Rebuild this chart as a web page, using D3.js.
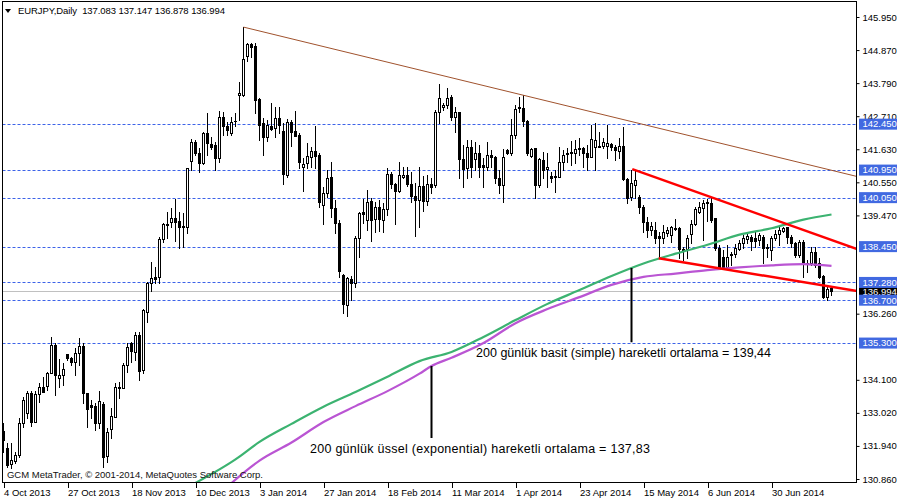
<!DOCTYPE html>
<html><head><meta charset="utf-8">
<script src="https://cdn.jsdelivr.net/npm/d3@7/dist/d3.min.js"></script>
<style>
body{margin:0;background:#fff}
svg{display:block;font-family:"Liberation Sans",Arial,sans-serif}
text{white-space:pre}
</style>
</head><body>
<svg id="chart" width="900" height="500"></svg>
<script>
// ---------- data ----------
const dateIdx = [0,16,32,48,64,80,96,112,128,144,160,176,192];
const dateLabels = ["4 Oct 2013","27 Oct 2013","18 Nov 2013","10 Dec 2013","3 Jan 2014","27 Jan 2014","18 Feb 2014","11 Mar 2014","1 Apr 2014","23 Apr 2014","15 May 2014","6 Jun 2014","30 Jun 2014"];
const priceTicks = [145.95,144.87,143.79,142.71,141.63,140.55,139.47,136.26,134.10,133.02,131.94,130.86];
const levels = [142.450,140.950,140.050,138.450,137.280,136.700,135.300];
const lastPrice = 136.994;

const open = [132.43,131.87,131.35,131.46,131.65,132.69,133.02,133.67,132.72,133.64,133.87,133.90,134.32,135.24,134.16,134.26,134.94,134.81,134.68,134.98,
135.21,133.67,133.28,133.25,132.69,133.31,131.61,132.50,132.89,133.83,133.83,134.58,135.30,135.01,135.56,134.42,136.32,137.26,137.46,137.46,
138.70,139.16,139.25,139.38,139.29,139.12,139.09,141.25,141.87,141.51,141.18,142.16,141.80,141.77,141.34,142.68,142.39,142.16,142.54,143.40,
143.40,144.68,145.07,145.00,143.27,142.49,142.03,142.39,142.33,142.65,142.23,140.79,142.52,142.23,142.10,141.05,141.18,141.38,141.57,141.44,
139.81,140.20,140.72,139.71,139.22,137.52,136.55,137.39,137.26,138.73,139.58,139.32,139.94,139.35,139.74,139.32,139.68,140.82,140.50,140.27,
140.72,140.79,140.50,140.10,139.97,140.43,139.95,140.50,140.46,142.85,143.01,143.07,143.34,142.68,142.85,141.31,141.02,141.70,141.31,141.51,
141.12,141.05,141.44,141.38,140.69,140.46,141.61,141.51,142.10,142.98,142.98,142.55,141.41,141.67,140.46,141.28,140.98,140.76,140.76,140.72,
141.21,141.47,141.54,141.51,141.67,141.67,141.51,141.38,141.70,141.70,141.74,141.74,141.80,141.70,141.57,141.74,140.66,140.07,140.46,140.07,
139.74,139.25,138.99,138.99,138.80,138.73,138.90,138.83,139.06,139.06,138.37,138.37,138.86,139.19,139.58,139.71,139.88,139.88,139.38,138.40,
138.11,137.78,138.18,138.21,138.37,138.57,138.70,138.77,138.73,138.67,138.77,138.44,138.34,138.73,138.86,138.96,139.09,138.77,138.57,138.18,
138.60,137.92,137.92,138.27,137.92,137.49,136.81,137.083];
const high = [132.69,132.04,132.04,131.75,132.85,133.54,133.74,133.74,133.74,134.00,134.19,134.36,135.50,135.30,134.78,134.65,134.94,134.85,135.14,135.47,
135.30,133.67,133.44,133.34,133.74,133.38,132.53,133.18,134.00,134.03,134.65,135.30,135.34,135.66,135.66,136.41,137.30,137.95,137.78,138.77,
139.22,139.58,139.71,140.01,139.58,139.55,141.02,141.97,141.93,141.67,142.19,142.81,142.03,141.87,142.88,142.85,142.52,142.68,142.81,143.83,
145.62,145.10,145.10,145.10,143.30,142.65,142.59,143.14,143.01,143.01,142.49,142.62,142.59,142.88,142.16,141.34,141.83,141.70,142.39,141.51,
140.40,140.95,141.21,139.97,139.32,137.55,137.46,137.49,138.80,139.58,140.01,140.30,140.04,139.91,139.97,139.88,141.02,140.89,140.53,141.21,
141.05,141.05,140.89,140.53,141.05,140.75,140.80,140.70,142.91,143.76,143.14,143.63,143.40,143.01,142.85,141.77,141.93,141.93,141.87,141.77,
141.34,141.87,141.61,141.41,140.95,141.64,141.64,142.62,143.07,143.34,143.40,142.59,141.67,141.67,141.34,141.54,141.51,140.89,140.95,141.70,
141.61,141.67,141.90,141.93,142.00,141.70,141.77,142.42,142.49,142.19,142.00,142.42,141.83,141.77,142.00,142.36,140.69,140.95,140.95,140.14,
139.81,139.42,139.25,139.25,138.93,139.16,139.09,139.12,139.35,139.09,138.44,138.83,139.32,139.74,139.91,139.97,140.01,140.04,139.38,138.50,
138.34,138.50,138.27,138.53,138.67,138.83,138.93,138.83,138.93,138.90,138.83,138.53,138.80,138.99,139.09,139.09,139.09,138.83,138.60,138.67,
138.67,138.01,138.44,138.44,138.08,137.52,137.13,137.147];
const low = [131.75,131.25,131.22,131.39,131.58,132.56,132.85,132.59,132.72,133.38,133.70,133.77,134.32,133.60,133.87,133.93,134.75,134.58,134.26,134.58,
133.34,132.56,132.85,132.46,132.53,131.25,131.42,132.20,132.89,133.51,133.83,134.36,134.68,134.75,134.09,134.32,136.00,137.00,137.26,137.26,
138.60,138.73,139.09,138.63,138.40,138.44,138.90,140.95,141.44,140.89,141.15,141.44,141.64,140.95,141.21,142.10,142.10,142.10,142.39,142.59,
143.37,144.51,144.64,142.81,141.93,141.44,141.90,142.26,142.03,142.16,140.50,140.72,141.74,142.06,141.02,140.27,141.02,141.05,141.02,139.74,
139.19,140.07,139.42,138.90,137.46,136.28,136.19,136.71,137.13,138.11,139.22,138.99,138.63,138.93,138.96,138.93,139.48,140.37,139.19,140.24,
140.69,140.43,139.91,138.80,139.09,139.60,139.80,140.20,140.40,142.49,142.91,142.98,142.59,142.19,140.69,140.40,140.69,140.72,140.95,140.72,
140.40,140.95,141.05,140.53,140.20,139.91,141.47,141.44,142.00,142.85,142.40,141.44,141.38,140.04,140.40,140.69,140.40,140.56,140.24,140.72,
140.95,141.21,141.12,141.18,141.44,141.05,140.95,141.38,140.95,141.70,141.67,141.34,141.61,141.28,141.34,140.63,139.88,139.97,140.04,139.55,
138.93,138.77,138.83,138.57,138.11,138.57,138.80,138.60,138.99,138.08,138.01,138.08,138.57,139.16,139.55,138.67,139.29,139.25,138.34,137.75,
137.75,137.72,137.85,138.11,138.34,138.40,138.57,138.34,138.44,138.50,137.92,138.11,138.01,138.67,138.50,138.93,138.57,138.44,138.11,138.11,
137.46,137.62,137.85,137.78,137.42,136.78,136.71,136.878];
const close = [132.13,131.32,131.48,131.65,132.69,133.44,133.67,132.72,133.64,133.87,133.70,134.32,135.24,134.26,134.26,134.45,134.81,134.68,134.98,135.21,
133.67,133.15,133.21,132.69,133.41,131.58,132.40,132.92,133.87,133.87,134.58,135.17,135.04,135.56,134.39,136.38,137.26,137.42,137.39,138.70,
139.19,139.19,139.38,139.25,139.09,139.09,141.02,141.87,141.51,141.18,142.16,141.83,141.70,141.34,142.68,142.39,142.26,142.52,142.55,143.47,
144.58,145.07,144.97,143.24,142.42,142.03,142.42,142.29,142.65,142.42,140.82,142.52,142.19,142.06,141.21,141.15,141.41,141.57,141.41,139.91,
140.20,140.69,139.71,139.22,137.65,136.58,137.42,137.26,138.73,139.55,139.52,139.91,139.32,139.74,139.35,139.68,140.82,140.50,140.27,140.79,
140.79,140.50,140.10,139.97,140.43,139.95,140.50,140.40,142.85,143.30,143.07,143.30,142.68,142.85,141.31,140.98,141.70,141.05,141.51,141.05,
141.05,141.44,141.38,140.69,140.46,141.38,141.51,142.10,142.95,143.01,142.55,141.51,141.64,140.46,141.31,140.95,141.05,140.69,140.72,141.21,
141.44,141.51,141.51,141.64,141.64,141.51,141.38,141.97,141.93,141.74,141.87,141.83,141.70,141.61,141.74,140.66,140.04,140.53,140.63,139.74,
139.25,138.99,139.12,138.73,138.73,138.93,138.99,139.09,139.03,138.37,138.34,138.73,139.19,139.68,139.74,139.88,139.91,139.32,138.40,137.78,
137.78,138.11,138.21,138.40,138.57,138.73,138.80,138.63,138.63,138.83,138.40,138.40,138.73,138.86,138.99,139.06,138.77,138.57,138.18,138.60,
137.92,137.88,138.27,137.85,137.46,136.81,137.07,136.994];

// moving averages read at sampled bars
const smaIdx = [48,58,64,72,80,88,96,104,112,120,128,136,144,152,160,168,176,184,192,200,207];
const smaVal = [130.73,131.50,132.07,132.66,133.22,133.70,134.20,134.71,135.01,135.50,136.05,136.58,137.03,137.49,137.90,138.22,138.51,138.84,139.05,139.33,139.50];
const emaIdx = [57,64,72,80,88,96,104,107,112,120,128,136,144,152,160,168,176,184,192,200,207];
const emaVal = [130.73,131.46,132.05,132.72,133.24,133.73,134.30,134.55,134.82,135.30,135.95,136.41,136.80,137.20,137.46,137.57,137.68,137.77,137.84,137.88,137.82];

// trendlines [bar, price]
const brownLine = [[60,145.62],[213.4,140.74]];
const redUpper = [[157.2,140.98],[213.4,138.37]];
const redLower = [[163.8,138.07],[213.4,137.00]];
// annotation markers [bar, priceTop, priceBottom]
const smaMark = [157, 137.75, 135.33];
const emaMark = [107, 134.55, 132.20];

const title = "EURJPY,Daily  137.083 137.147 136.878 136.994";
const smaText = "200 günlük basit (simple) hareketli ortalama = 139,44";
const emaText = "200 günlük üssel (exponential) hareketli ortalama = 137,83";
const copyText = "GCM MetaTrader, © 2001-2014, MetaQuotes Software Corp.";

// ---------- drawing ----------
const svg = d3.select("#chart");
const L = 2.5, R = 856.5, T = 1.5, B = 482.5;
const x = d3.scaleLinear().domain([0, 207]).range([3.5, 831.5]);
const y = d3.scaleLinear().domain([130.86, 145.95]).range([479, 17]);

svg.append("defs").append("clipPath").attr("id","plot")
  .append("rect").attr("x",L).attr("y",T).attr("width",R-L).attr("height",B-T);

const plot = svg.append("g").attr("clip-path","url(#plot)");

// horizontal levels
plot.selectAll("line.lvl").data(levels).join("line")
  .attr("x1",L).attr("x2",R)
  .attr("y1",d=>Math.round(y(d))+0.5).attr("y2",d=>Math.round(y(d))+0.5)
  .attr("stroke","#3d63e8").attr("stroke-width",1).attr("stroke-dasharray","3,2");
// current price line
plot.append("line").attr("x1",L).attr("x2",R)
  .attr("y1",Math.round(y(lastPrice))+0.5).attr("y2",Math.round(y(lastPrice))+0.5)
  .attr("stroke","#c0c0c0").attr("stroke-width",1);

// candles
const idx = d3.range(open.length);
const cg = plot.append("g").attr("shape-rendering","crispEdges");
cg.selectAll("line.wick").data(idx).join("line")
  .attr("x1",i=>x(i)).attr("x2",i=>x(i))
  .attr("y1",i=>Math.round(y(high[i]))).attr("y2",i=>Math.round(y(low[i]))+1)
  .attr("stroke","#000").attr("stroke-width",1);
cg.selectAll("rect.body").data(idx).join("rect")
  .attr("x",i=>x(i)-1)
  .attr("y",i=>Math.round(y(Math.max(open[i],close[i])))+0.5)
  .attr("width",2)
  .attr("height",i=>Math.max(0.01,Math.round(y(Math.min(open[i],close[i])))-Math.round(y(Math.max(open[i],close[i])))))
  .attr("fill",i=>close[i]>=open[i]?"#fff":"#000")
  .attr("stroke","#000").attr("stroke-width",1);

// moving averages
const line = d3.line().x(d=>x(d[0])).y(d=>y(d[1]));
const curve = d3.line().x(d=>x(d[0])).y(d=>y(d[1])).curve(d3.curveMonotoneX);
plot.append("path").datum(smaIdx.map((d,k)=>[d,smaVal[k]])).attr("d",curve)
  .attr("fill","none").attr("stroke","#3cb371").attr("stroke-width",2.2);
plot.append("path").datum(emaIdx.map((d,k)=>[d,emaVal[k]])).attr("d",curve)
  .attr("fill","none").attr("stroke","#ba55d3").attr("stroke-width",2.2);

// trendlines
plot.append("path").datum(brownLine).attr("d",line).attr("fill","none").attr("stroke","#a0522d").attr("stroke-width",1);
plot.append("path").datum(redUpper).attr("d",line).attr("fill","none").attr("stroke","#ff0000").attr("stroke-width",2.5);
plot.append("path").datum(redLower).attr("d",line).attr("fill","none").attr("stroke","#ff0000").attr("stroke-width",2.5);

// annotation markers
[smaMark, emaMark].forEach(m=>{
  plot.append("line").attr("x1",x(m[0])).attr("x2",x(m[0]))
    .attr("y1",y(m[1])).attr("y2",y(m[2])).attr("stroke","#000").attr("stroke-width",2);
});

// annotation texts
svg.append("text").attr("x",476).attr("y",357).attr("font-size",12.5).attr("textLength",295).attr("lengthAdjust","spacing").text(smaText);
svg.append("text").attr("x",310).attr("y",453).attr("font-size",12.5).attr("textLength",340).attr("lengthAdjust","spacing").text(emaText);
svg.append("text").attr("x",7).attr("y",478).attr("font-size",9.5).attr("fill","#111").attr("textLength",256).attr("lengthAdjust","spacing").text(copyText);

// title
svg.append("path").attr("d","M5,9 L11,9 L8,13 Z").attr("fill","#000");
svg.append("text").attr("x",18).attr("y",14).attr("font-size",9.5).attr("textLength",207).attr("lengthAdjust","spacing").text(title);

// frame
svg.append("rect").attr("x",L).attr("y",T).attr("width",R-L).attr("height",B-T)
  .attr("fill","none").attr("stroke","#000").attr("stroke-width",1);

// bottom axis
const xAxis = d3.axisBottom(x).tickValues(dateIdx).tickSize(5).tickFormat((d,k)=>dateLabels[k]);
const gx = svg.append("g").attr("transform",`translate(0,${B})`).call(xAxis);
gx.select(".domain").remove();
gx.selectAll("line").attr("stroke","#000").attr("shape-rendering","crispEdges");
gx.selectAll("text").attr("text-anchor","start").attr("x",0).attr("y",6).attr("dy","0.75em")
  .attr("font-size",9.5).attr("font-family","Liberation Sans, Arial, sans-serif").attr("fill","#000");

// right axis
const yAxis = d3.axisRight(y).tickValues(priceTicks).tickSize(3).tickFormat(d3.format(".3f"));
const gy = svg.append("g").attr("transform",`translate(${R},0)`).call(yAxis);
gy.select(".domain").remove();
gy.selectAll("line").attr("stroke","#000");
gy.selectAll("text").attr("x",6).attr("font-size",9.5).attr("font-family","Liberation Sans, Arial, sans-serif").attr("fill","#000");

// price boxes
const bx = svg.append("g");
bx.append("rect").attr("x",859).attr("y",y(lastPrice)-5.5).attr("width",38).attr("height",11).attr("fill","#000");
bx.append("text").attr("x",862.5).attr("y",y(lastPrice)).attr("dy","0.35em").attr("font-size",9.5).attr("fill","#fff").text(d3.format(".3f")(lastPrice));
const lb = bx.selectAll("g.lv").data(levels).join("g");
lb.append("rect").attr("x",859).attr("y",d=>y(d)-5.5).attr("width",38).attr("height",11).attr("fill","#4169e1");
lb.append("text").attr("x",862.5).attr("y",d=>y(d)).attr("dy","0.35em").attr("font-size",9.5).attr("fill","#fff").text(d=>d3.format(".3f")(d));
</script>
</body></html>
